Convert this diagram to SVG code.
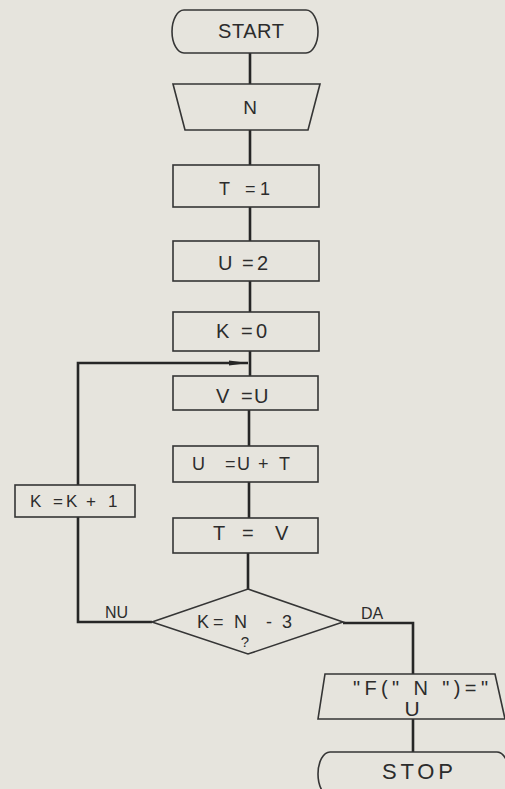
<svg xmlns="http://www.w3.org/2000/svg" width="505" height="789" viewBox="0 0 505 789">
<defs>
<style>
.shape{fill:#e6e4dd;stroke:#353535;stroke-width:1.6}
.conn{fill:none;stroke:#262626;stroke-width:2.6}
text{font-family:"Liberation Sans",Arial,sans-serif;fill:#2c2c2c}
</style>
<marker id="arr" markerUnits="userSpaceOnUse" markerWidth="20" markerHeight="6" refX="19" refY="3" orient="auto">
<path d="M0,0.6 L19,3 L0,5.4 Z" fill="#262626"/>
</marker>
</defs>
<rect x="0" y="0" width="505" height="789" fill="#e6e4dd"/>
<g id="connectors">
<line class="conn" x1="250" y1="53" x2="250" y2="84"/>
<line class="conn" x1="250" y1="130" x2="250" y2="165"/>
<line class="conn" x1="250" y1="207" x2="250" y2="241"/>
<line class="conn" x1="250" y1="281" x2="250" y2="312"/>
<line class="conn" x1="250" y1="351" x2="250" y2="376"/>
<line class="conn" x1="249" y1="410" x2="249" y2="446"/>
<line class="conn" x1="249" y1="482" x2="249" y2="518"/>
<line class="conn" x1="248" y1="553" x2="248" y2="589"/>
<polyline class="conn" points="152,622 78,622 78,363 248,363" marker-end="url(#arr)"/>
<polyline class="conn" points="343,623 413,623 413,674"/>
<line class="conn" x1="413" y1="719" x2="413" y2="752"/>
</g>
<g id="start">
<path class="shape" d="M184,10 H306 A12,21.5 0 0 1 306,53 H184 A12,21.5 0 0 1 184,10 Z"/>
<text x="251" y="38" font-size="20" text-anchor="middle" textLength="66" lengthAdjust="spacing">START</text>
</g>
<g id="input-n">
<polygon class="shape" points="173,84 320,84 308,130 185,130"/>
<text x="250" y="114" font-size="19" text-anchor="middle">N</text>
</g>
<g id="t1">
<rect class="shape" x="173" y="165" width="146" height="42"/>
<text y="195" font-size="18"><tspan x="219">T</tspan><tspan x="245">=</tspan><tspan x="260">1</tspan></text>
</g>
<g id="u2">
<rect class="shape" x="173" y="241" width="146" height="40"/>
<text y="270" font-size="20"><tspan x="218">U</tspan><tspan x="242">=</tspan><tspan x="257">2</tspan></text>
</g>
<g id="k0">
<rect class="shape" x="173" y="312" width="146" height="39"/>
<text y="338" font-size="20"><tspan x="216">K</tspan><tspan x="241">=</tspan><tspan x="256">0</tspan></text>
</g>
<g id="vu">
<rect class="shape" x="173" y="376" width="145" height="34"/>
<text y="403" font-size="20"><tspan x="216">V</tspan><tspan x="241">=</tspan><tspan x="254">U</tspan></text>
</g>
<g id="uut">
<rect class="shape" x="173" y="446" width="145" height="36"/>
<text y="470" font-size="18"><tspan x="192">U</tspan><tspan x="225">=</tspan><tspan x="237">U</tspan><tspan x="258">+</tspan><tspan x="279">T</tspan></text>
</g>
<g id="tv">
<rect class="shape" x="173" y="518" width="145" height="35"/>
<text y="540" font-size="20"><tspan x="213">T</tspan><tspan x="242">=</tspan><tspan x="275">V</tspan></text>
</g>
<g id="kk1">
<rect class="shape" x="15" y="485" width="120" height="32"/>
<text y="507" font-size="17"><tspan x="30">K</tspan><tspan x="53">=</tspan><tspan x="66">K</tspan><tspan x="86">+</tspan><tspan x="108">1</tspan></text>
</g>
<g id="decision">
<polygon class="shape" points="248,589 343,622 248,654 152,622"/>
<text y="628" font-size="18"><tspan x="197">K</tspan><tspan x="213">=</tspan><tspan x="234">N</tspan><tspan x="266">-</tspan><tspan x="282">3</tspan></text>
<text x="245" y="647" font-size="15" text-anchor="middle">?</text>
<text x="105" y="618" font-size="16">NU</text>
<text x="361" y="619" font-size="16">DA</text>
</g>
<g id="output">
<polygon class="shape" points="325,674 495,674 505,719 318,719"/>
<text x="420.5" y="695" font-size="20" text-anchor="middle" textLength="135" lengthAdjust="spacing" xml:space="preserve">"F(" N ")="</text>
<text x="412" y="716" font-size="21" text-anchor="middle">U</text>
</g>
<g id="stop">
<path class="shape" d="M330,752 H497 A12,22 0 0 1 497,796 H330 A12,22 0 0 1 330,752 Z"/>
<text x="417.5" y="779" font-size="22" text-anchor="middle" textLength="71" lengthAdjust="spacing">STOP</text>
</g>
</svg>
